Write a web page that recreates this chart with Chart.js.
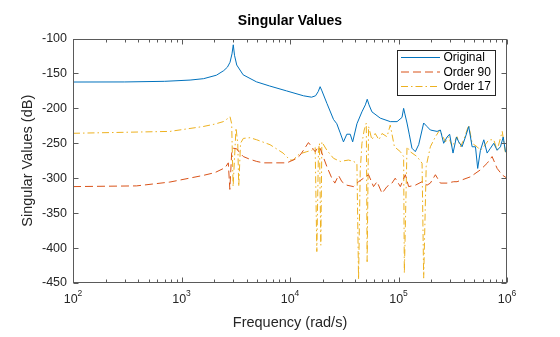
<!DOCTYPE html>
<html>
<head>
<meta charset="utf-8">
<script src="https://cdn.jsdelivr.net/npm/chart.js@4/dist/chart.umd.min.js"></script>
<style>
  html, body { margin: 0; padding: 0; background: #fff; }
  #wrap { width: 560px; height: 337px; }
</style>
</head>
<body>
<div id="wrap"><canvas id="c" width="560" height="337"></canvas></div>
<script>
// Frequency response magnitudes (dB) of the full model and two reduced models
const origFreq = [100, 300, 700, 1200, 1600, 2100, 2450, 2650, 2800, 2920, 3000, 3080, 3230, 3700, 4900, 6500, 9300, 13300, 15800, 17200, 18200, 18950, 19700, 21900, 25200, 27000, 29000, 31100, 33400, 35900, 37800, 41400, 46000, 49500, 51500, 53500, 56900, 67900, 84000, 97000, 107700, 111500, 114500, 119800, 126000, 133000, 142900, 153500, 170600, 183200, 196600, 226800, 243200, 260800, 280200, 296000, 318000, 342000, 359000, 385000, 414000, 444000, 477000, 512000, 537000, 569000, 611000, 656000, 704000, 755000, 811000, 870000, 923000, 968000, 1000000];
const origDb = [-162.3, -162.2, -161.3, -159.5, -157.5, -152.5, -146, -141, -134, -122, -109, -124, -138, -152, -162, -168, -175, -182, -184, -182, -176, -169, -175, -193, -216, -222, -235, -248, -237, -237, -248, -222, -205, -195, -187, -195, -205, -214, -219, -219, -213, -200, -208, -221, -238, -257, -262, -252, -221, -226, -231, -233, -231, -250, -241, -237, -264, -241, -248, -255, -241, -226, -255, -255, -286, -260, -245, -264, -257, -250, -260, -255, -241, -262, -264];

const ord90Freq = [100, 385, 781, 1585, 2030, 2520, 2700, 2790, 2900, 3000, 3230, 3460, 3715, 4285, 4936, 5680, 9340, 10020, 11560, 12390, 13300, 14290, 14790, 15880, 16450, 17060, 18290, 18950, 19660, 21880, 24300, 25900, 28000, 30080, 33430, 38470, 42840, 47640, 52990, 58880, 63400, 70500, 78300, 87080, 93300, 104000, 115600, 124000, 142900, 164900, 183200, 196600, 218800, 243200, 280200, 322500, 346400, 460000, 569000, 656000, 729000, 811000, 904000, 1000000];
const ord90Db = [-312, -311, -305.5, -296, -292, -285, -278, -316, -264, -257, -258, -264, -269, -273, -276, -278, -278, -276, -271.5, -267, -260, -252.5, -249, -255, -259, -262, -255, -257, -264, -283.5, -300, -307, -296, -305, -310, -312, -305, -300, -295, -312, -305, -321.6, -312, -307, -300, -312, -295, -312, -310, -305, -310, -307, -295, -307, -307, -305, -305, -298, -288, -278.6, -269, -286, -295.4, -300];

const ord17Freq = [100, 781, 1585, 2030, 2428, 2700, 2800, 2900, 2990, 3180, 3300, 3370, 3500, 3715, 4285, 4936, 6545, 8634, 10020, 10750, 11560, 12390, 14290, 15880, 17060, 17670, 18290, 18680, 19240, 19660, 21880, 25170, 29040, 34590, 38470, 41370, 42840, 44380, 46030, 48300, 50500, 51400, 52990, 56890, 61000, 66000, 70500, 78300, 83950, 91700, 104000, 111500, 113200, 119800, 128000, 148200, 164900, 170600, 180000, 196600, 219000, 240000, 252000, 271000, 290000, 312000, 346000, 372000, 399000, 444000, 477000, 530000, 569000, 611000, 679000, 755000, 811000, 904000, 968000, 1000000];
const ord17Db = [-235.7, -233, -226, -222.5, -219, -214, -212, -222, -312, -228, -250, -312, -250, -243, -242, -245, -252, -264, -274, -274, -268, -265, -262, -260, -256, -405, -260, -250, -396, -248, -260, -271.5, -276, -274, -276, -278.6, -445, -290, -250, -231, -221, -419.5, -226, -245, -236, -245, -236, -240.6, -224, -255, -262, -269, -436, -255, -262, -269, -278.6, -443, -283, -255, -240.6, -231, -238, -248, -240.6, -255, -240.6, -255, -245, -224, -250, -255, -260, -255, -245, -245, -260, -233, -264, -262];

const seriesNames = ['Original', 'Order 90', 'Order 17'];
const xTickExponents = [2, 3, 4, 5, 6];
const yRange = [-450, -100];
const yStep = 50;

const FONT = '"Liberation Sans", Arial, Helvetica, sans-serif';
const AXIS_COLOR = '#262626';

function toPoints(xs, ys) {
  return xs.map((x, i) => ({ x: x, y: ys[i] }));
}

const lineStyles = [
  { color: '#0072BD', dash: [] },
  { color: '#D95319', dash: [8, 4] },
  { color: '#EDB120', dash: [7, 3, 1.5, 3] }
];

const datasets = [
  toPoints(origFreq, origDb),
  toPoints(ord90Freq, ord90Db),
  toPoints(ord17Freq, ord17Db)
].map((pts, i) => ({
  label: seriesNames[i],
  data: pts,
  borderColor: lineStyles[i].color,
  borderDash: lineStyles[i].dash,
  borderWidth: 1,
  pointRadius: 0,
  fill: false,
  tension: 0
}));

// Box, inward ticks, superscripted decade labels and the legend
const axesDecor = {
  id: 'axesDecor',
  afterDraw(chart) {
    const ctx = chart.ctx;
    const area = chart.chartArea;
    const xs = chart.scales.x;
    const ys = chart.scales.y;
    const L = Math.round(area.left) + 0.5;
    const R = Math.round(area.right) - 0.5;
    const T = Math.round(area.top) + 0.5;
    const B = Math.round(area.bottom) - 0.5;

    ctx.save();
    ctx.strokeStyle = '#5a5a5a';
    ctx.lineWidth = 1;
    ctx.setLineDash([]);
    ctx.strokeRect(L, T, R - L, B - T);

    ctx.beginPath();
    // x ticks (major decades and minor 2..9)
    for (let d = xTickExponents[0]; d <= xTickExponents[xTickExponents.length - 1]; d++) {
      for (let m = 1; m <= 9; m++) {
        const v = m * Math.pow(10, d);
        if (v > 1e6 + 1) break;
        const px = Math.round(xs.getPixelForValue(v)) + 0.5;
        const len = m === 1 ? 5 : 3;
        ctx.moveTo(px, B); ctx.lineTo(px, B - len);
        ctx.moveTo(px, T); ctx.lineTo(px, T + len);
      }
    }
    // y ticks
    for (let v = yRange[0]; v <= yRange[1]; v += yStep) {
      const py = Math.round(ys.getPixelForValue(v)) + 0.5;
      ctx.moveTo(L, py); ctx.lineTo(L + 5, py);
      ctx.moveTo(R, py); ctx.lineTo(R - 5, py);
    }
    ctx.stroke();

    // decade labels 10^n
    ctx.fillStyle = AXIS_COLOR;
    ctx.textBaseline = 'alphabetic';
    ctx.textAlign = 'left';
    const baseFont = '12.5px ' + FONT;
    const expFont = '8.5px ' + FONT;
    xTickExponents.forEach(n => {
      const px = xs.getPixelForValue(Math.pow(10, n));
      ctx.font = baseFont;
      const wb = ctx.measureText('10').width;
      ctx.font = expFont;
      const we = ctx.measureText(String(n)).width;
      const x0 = px - (wb + we) / 2;
      ctx.font = baseFont;
      ctx.fillText('10', x0, 302.5);
      ctx.font = expFont;
      ctx.fillText(String(n), x0 + wb, 296);
    });

    // legend
    const lx = 397.5, ly = 50.5, lw = 98, lh = 45;
    ctx.fillStyle = '#ffffff';
    ctx.fillRect(lx, ly, lw, lh);
    ctx.strokeStyle = '#262626';
    ctx.lineWidth = 1;
    ctx.strokeRect(lx, ly, lw, lh);
    const rows = [57.5, 72, 86.5];
    ctx.font = '12px ' + FONT;
    ctx.textBaseline = 'middle';
    chart.data.datasets.forEach((ds, i) => {
      const y = rows[i];
      ctx.beginPath();
      ctx.strokeStyle = ds.borderColor;
      ctx.setLineDash(ds.borderDash || []);
      ctx.lineWidth = 1;
      ctx.moveTo(401, y);
      ctx.lineTo(440, y);
      ctx.stroke();
      ctx.setLineDash([]);
      ctx.fillStyle = '#000000';
      ctx.fillText(ds.label, 443.5, y + 0.5);
    });
    ctx.restore();
  }
};

new Chart(document.getElementById('c'), {
  type: 'line',
  data: { datasets: datasets },
  options: {
    responsive: false,
    animation: false,
    events: [],
    layout: { padding: { left: 0, right: 53, top: 0, bottom: 0 } },
    plugins: {
      legend: { display: false },
      tooltip: { enabled: false },
      title: {
        display: true,
        text: 'Singular Values',
        fullSize: false,
        color: '#000000',
        font: { family: FONT, size: 14, weight: 'bold', lineHeight: 1.2 },
        padding: { top: 12.6, bottom: 9.1 }
      }
    },
    scales: {
      x: {
        type: 'logarithmic',
        position: 'bottom',
        min: 100,
        max: 1e6,
        grid: { display: false, drawTicks: false },
        border: { display: false },
        ticks: { display: false },
        title: {
          display: true,
          text: 'Frequency (rad/s)',
          color: AXIS_COLOR,
          font: { family: FONT, size: 14.5, lineHeight: 1.2 },
          padding: { top: 0, bottom: 5 }
        },
        afterFit(scale) { scale.height = 54; }
      },
      y: {
        type: 'linear',
        position: 'left',
        min: yRange[0],
        max: yRange[1],
        grid: { display: false, drawTicks: false },
        border: { display: false },
        ticks: {
          stepSize: yStep,
          color: AXIS_COLOR,
          padding: 6,
          font: { family: FONT, size: 12.5 },
          callback: v => String(v)
        },
        title: {
          display: true,
          text: 'Singular Values (dB)',
          color: AXIS_COLOR,
          font: { family: FONT, size: 14.5, lineHeight: 1.2 },
          padding: { top: 19, bottom: 0 }
        },
        afterFit(scale) { scale.width = 73; }
      }
    }
  },
  plugins: [axesDecor]
});
</script>
</body>
</html>
